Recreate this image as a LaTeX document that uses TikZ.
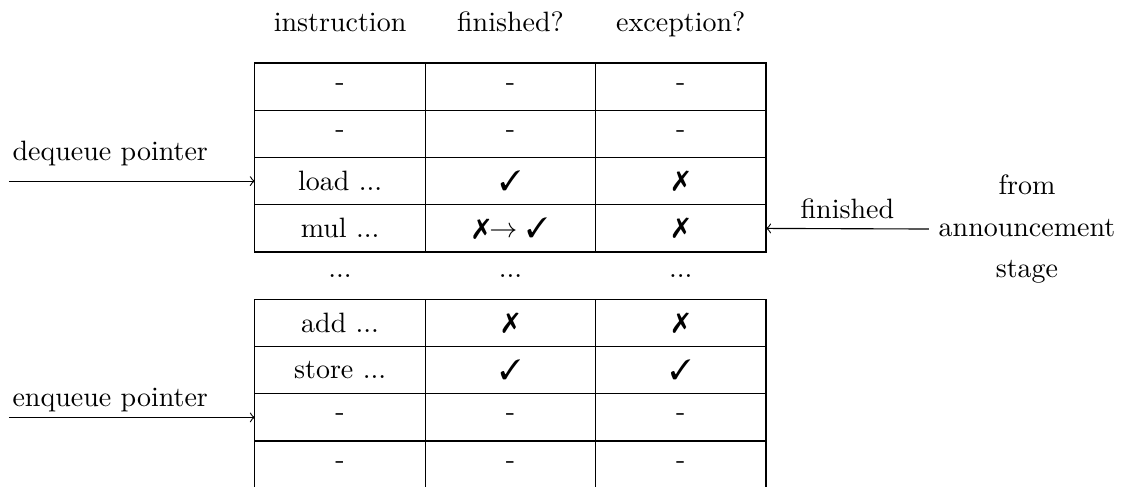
\documentclass[tikz,border=0pt]{standalone}
\usepackage{pifont}
\newcommand{\cmark}{\ding{51}}
\newcommand{\xmark}{\ding{55}}
\begin{document}
\begin{tikzpicture}[x=0.35714pt,y=-0.35714pt,
  cell/.style={draw, inner sep=0pt, outer sep=0pt,
    minimum width=60.83pt, minimum height=16.875pt},
  plain/.style={inner sep=0pt, outer sep=0pt,
    minimum width=60.83pt, minimum height=16.875pt},
  head/.style={anchor=base, inner sep=0pt},
  lbl/.style={anchor=base west, inner sep=0pt},
  ptr/.style={->}]
\useasboundingbox (0,0) rectangle (1126,486);

% column headers
\node[head] (h1) at (340.1,31) {instruction};
\node[head] (h2) at (510.5,31) {finished?};
\node[head] (h3) at (680.8,31) {exception?};

% upper block of the queue
\node[cell] (a1) at (340.1,86.6) {-};
\node[cell] (a2) at (510.5,86.6) {-};
\node[cell] (a3) at (680.8,86.6) {-};
\node[cell] (b1) at (340.1,133.9) {-};
\node[cell] (b2) at (510.5,133.9) {-};
\node[cell] (b3) at (680.8,133.9) {-};
\node[cell] (c1) at (340.1,181.1) {load ...};
\node[cell] (c2) at (510.5,181.1) {\cmark};
\node[cell] (c3) at (680.8,181.1) {\xmark};
\node[cell] (d1) at (340.1,228.4) {mul ...};
\node[cell] (d2) at (510.5,228.4) {\xmark$\rightarrow$ \cmark};
\node[cell] (d3) at (680.8,228.4) {\xmark};

% elided entries
\node[plain] (e1) at (340.1,275.6) {...};
\node[plain] (e2) at (510.5,275.6) {...};
\node[plain] (e3) at (680.8,275.6) {...};

% lower block of the queue
\node[cell] (f1) at (340.1,322.9) {add ...};
\node[cell] (f2) at (510.5,322.9) {\xmark};
\node[cell] (f3) at (680.8,322.9) {\xmark};
\node[cell] (g1) at (340.1,370.1) {store ...};
\node[cell] (g2) at (510.5,370.1) {\cmark};
\node[cell] (g3) at (680.8,370.1) {\cmark};
\node[cell] (i1) at (340.1,417.4) {-};
\node[cell] (i2) at (510.5,417.4) {-};
\node[cell] (i3) at (680.8,417.4) {-};
\node[cell] (j1) at (340.1,464.6) {-};
\node[cell] (j2) at (510.5,464.6) {-};
\node[cell] (j3) at (680.8,464.6) {-};

% dequeue pointer
\coordinate (dq) at (9,181.1);
\node[lbl] (dql) at (12,160) {dequeue pointer};
\draw[ptr] (dq) -- (c1.west);

% enqueue pointer
\coordinate (eq) at (9,417.4);
\node[lbl] (eql) at (12,406) {enqueue pointer};
\draw[ptr] (eq) -- (i1.west);

% completion signal
\node[align=center] (src) at (1027,229) {from\\[3pt]announcement\\[3pt]stage};
\draw[ptr] (src.west) -- node[above] (fin) {finished} (d3.east);
\end{tikzpicture}
\end{document}
